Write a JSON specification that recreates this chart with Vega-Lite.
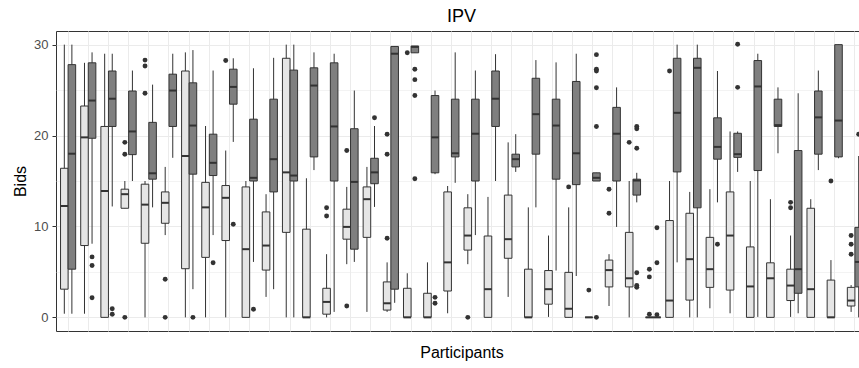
{
  "$schema": "https://vega.github.io/schema/vega-lite/v6.json",
  "width": 811,
  "height": 300,
  "autosize": {"type": "none"},
  "padding": {"left": 56, "top": 31, "right": 0, "bottom": 37},
  "background": "white",
  "title": {"text": "IPV", "fontSize": 18, "font": "Liberation Sans", "fontWeight": "normal", "color": "black", "anchor": "middle", "offset": 5},
  "config": {"view": {"stroke": "#333333", "strokeWidth": 1}, "font": "Liberation Sans"},
  "datasets": {
    "boxes": [
      {"p": 1, "g": "A", "lo": 0.4, "q1": 3.1, "med": 12.25, "q3": 16.4, "hi": 30},
      {"p": 1, "g": "B", "lo": 0.4, "q1": 5.3, "med": 18.0, "q3": 27.8, "hi": 30},
      {"p": 2, "g": "A", "lo": 0.4, "q1": 7.9, "med": 19.8, "q3": 23.25, "hi": 28.0},
      {"p": 2, "g": "B", "lo": 8.1, "q1": 19.7, "med": 23.85, "q3": 28.0, "hi": 29.15},
      {"p": 3, "g": "A", "lo": 0, "q1": 0, "med": 13.9, "q3": 21.0, "hi": 29.0},
      {"p": 3, "g": "B", "lo": 12.2, "q1": 21.0, "med": 24.05, "q3": 27.1, "hi": 29.0},
      {"p": 4, "g": "A", "lo": 12.0, "q1": 12.0, "med": 13.55, "q3": 14.1, "hi": 15.0},
      {"p": 4, "g": "B", "lo": 15.0, "q1": 17.9, "med": 20.45, "q3": 24.9, "hi": 27.15},
      {"p": 5, "g": "A", "lo": 0, "q1": 8.15, "med": 12.4, "q3": 14.65, "hi": 15.0},
      {"p": 5, "g": "B", "lo": 12.1, "q1": 15.2, "med": 15.85, "q3": 21.45, "hi": 25.6},
      {"p": 6, "g": "A", "lo": 9.05, "q1": 10.35, "med": 12.6, "q3": 13.8, "hi": 16.55},
      {"p": 6, "g": "B", "lo": 17.55, "q1": 21.0, "med": 24.95, "q3": 26.75, "hi": 29.0},
      {"p": 7, "g": "A", "lo": 0, "q1": 5.35, "med": 17.75, "q3": 27.1, "hi": 29.15},
      {"p": 7, "g": "B", "lo": 3.1, "q1": 15.75, "med": 21.1, "q3": 25.8, "hi": 29.4},
      {"p": 8, "g": "A", "lo": 0, "q1": 6.6, "med": 12.1, "q3": 14.85, "hi": 21.05},
      {"p": 8, "g": "B", "lo": 9.05, "q1": 15.6, "med": 17.0, "q3": 20.15, "hi": 27.15},
      {"p": 9, "g": "A", "lo": 0, "q1": 8.45, "med": 13.15, "q3": 14.5, "hi": 18.35},
      {"p": 9, "g": "B", "lo": 19.3, "q1": 23.45, "med": 25.35, "q3": 27.3, "hi": 28.5},
      {"p": 10, "g": "A", "lo": 0, "q1": 0, "med": 7.5, "q3": 14.35, "hi": 15.0},
      {"p": 10, "g": "B", "lo": 6.1, "q1": 15.0, "med": 15.35, "q3": 21.8, "hi": 27.4},
      {"p": 11, "g": "A", "lo": 2.25, "q1": 5.2, "med": 7.9, "q3": 11.6, "hi": 13.55},
      {"p": 11, "g": "B", "lo": 3.1, "q1": 13.8, "med": 17.4, "q3": 24.0, "hi": 28.55},
      {"p": 12, "g": "A", "lo": 0, "q1": 9.35, "med": 15.95, "q3": 28.5, "hi": 30},
      {"p": 12, "g": "B", "lo": 0, "q1": 15.0, "med": 15.6, "q3": 27.2, "hi": 30},
      {"p": 13, "g": "A", "lo": 0, "q1": 0, "med": 0, "q3": 9.7, "hi": 15.3},
      {"p": 13, "g": "B", "lo": 16.2, "q1": 17.65, "med": 25.5, "q3": 27.45, "hi": 29.15},
      {"p": 14, "g": "A", "lo": 0, "q1": 0.35, "med": 1.7, "q3": 3.2, "hi": 6.95},
      {"p": 14, "g": "B", "lo": 0.6, "q1": 15.0, "med": 21.0, "q3": 28.0, "hi": 29.0},
      {"p": 15, "g": "A", "lo": 5.85, "q1": 8.6, "med": 9.95, "q3": 11.9, "hi": 14.35},
      {"p": 15, "g": "B", "lo": 6.1, "q1": 7.5, "med": 14.9, "q3": 20.75, "hi": 24.95},
      {"p": 16, "g": "A", "lo": 0.6, "q1": 8.8, "med": 13.0, "q3": 14.35, "hi": 16.55},
      {"p": 16, "g": "B", "lo": 12.15, "q1": 14.7, "med": 15.95, "q3": 17.5, "hi": 21.05},
      {"p": 17, "g": "A", "lo": 0.6, "q1": 0.8, "med": 1.55, "q3": 3.9, "hi": 6.05},
      {"p": 17, "g": "B", "lo": 1.6, "q1": 3.1, "med": 29.0, "q3": 29.8, "hi": 29.85},
      {"p": 18, "g": "A", "lo": 0, "q1": 0, "med": 0, "q3": 3.2, "hi": 4.85},
      {"p": 18, "g": "B", "lo": 29.1, "q1": 29.1, "med": 29.75, "q3": 29.85, "hi": 29.85},
      {"p": 19, "g": "A", "lo": 0, "q1": 0, "med": 0, "q3": 2.65, "hi": 6.05},
      {"p": 19, "g": "B", "lo": 15.75, "q1": 15.9, "med": 19.8, "q3": 24.4, "hi": 24.95},
      {"p": 20, "g": "A", "lo": 0.45, "q1": 2.9, "med": 6.05, "q3": 13.8, "hi": 14.45},
      {"p": 20, "g": "B", "lo": 14.8, "q1": 17.65, "med": 18.05, "q3": 24.0, "hi": 29.15},
      {"p": 21, "g": "A", "lo": 5.85, "q1": 7.4, "med": 9.0, "q3": 12.05, "hi": 13.55},
      {"p": 21, "g": "B", "lo": 9.05, "q1": 15.0, "med": 20.2, "q3": 24.0, "hi": 27.15},
      {"p": 22, "g": "A", "lo": 0, "q1": 0, "med": 3.1, "q3": 8.95, "hi": 13.25},
      {"p": 22, "g": "B", "lo": 15.0, "q1": 21.0, "med": 24.05, "q3": 27.1, "hi": 28.95},
      {"p": 23, "g": "A", "lo": 2.25, "q1": 6.5, "med": 8.6, "q3": 13.45, "hi": 19.25},
      {"p": 23, "g": "B", "lo": 16.0, "q1": 16.55, "med": 17.4, "q3": 17.95, "hi": 20.15},
      {"p": 24, "g": "A", "lo": 0, "q1": 0, "med": 0, "q3": 5.3, "hi": 12.1},
      {"p": 24, "g": "B", "lo": 12.1, "q1": 17.95, "med": 22.35, "q3": 26.3, "hi": 28.3},
      {"p": 25, "g": "A", "lo": 0.05, "q1": 1.45, "med": 3.1, "q3": 5.15, "hi": 9.0},
      {"p": 25, "g": "B", "lo": 5.15, "q1": 15.2, "med": 21.1, "q3": 24.0, "hi": 28.05},
      {"p": 26, "g": "A", "lo": 0, "q1": 0, "med": 0.95, "q3": 4.95, "hi": 12.1},
      {"p": 26, "g": "B", "lo": 4.55, "q1": 14.6, "med": 18.05, "q3": 25.95, "hi": 29.0},
      {"p": 27, "g": "A", "lo": 0, "q1": 0, "med": 0, "q3": 0, "hi": 0},
      {"p": 27, "g": "B", "lo": 15.0, "q1": 15.0, "med": 15.35, "q3": 15.9, "hi": 15.9},
      {"p": 28, "g": "A", "lo": 1.25, "q1": 3.35, "med": 5.2, "q3": 6.3, "hi": 6.95},
      {"p": 28, "g": "B", "lo": 9.95, "q1": 15.0, "med": 20.2, "q3": 23.1, "hi": 25.3},
      {"p": 29, "g": "A", "lo": 0, "q1": 3.35, "med": 4.3, "q3": 9.35, "hi": 15.0},
      {"p": 29, "g": "B", "lo": 12.65, "q1": 13.45, "med": 15.05, "q3": 15.2, "hi": 15.9},
      {"p": 30, "g": "A", "lo": 0, "q1": 0, "med": 0, "q3": 0, "hi": 0},
      {"p": 30, "g": "B", "lo": 0, "q1": 0, "med": 0, "q3": 0, "hi": 0},
      {"p": 31, "g": "A", "lo": 0, "q1": 0, "med": 1.85, "q3": 10.65, "hi": 15.0},
      {"p": 31, "g": "B", "lo": 6.05, "q1": 16.0, "med": 22.5, "q3": 28.5, "hi": 30},
      {"p": 32, "g": "A", "lo": 0, "q1": 1.9, "med": 6.4, "q3": 11.45, "hi": 13.8},
      {"p": 32, "g": "B", "lo": 0, "q1": 12.05, "med": 27.45, "q3": 28.5, "hi": 30},
      {"p": 33, "g": "A", "lo": 1.0, "q1": 3.3, "med": 5.3, "q3": 8.8, "hi": 14.1},
      {"p": 33, "g": "B", "lo": 12.65, "q1": 17.4, "med": 18.75, "q3": 21.95, "hi": 27.1},
      {"p": 34, "g": "A", "lo": 0.45, "q1": 3.0, "med": 9.0, "q3": 13.8, "hi": 20.45},
      {"p": 34, "g": "B", "lo": 16.0, "q1": 17.6, "med": 17.95, "q3": 20.25, "hi": 20.45},
      {"p": 35, "g": "A", "lo": 0, "q1": 0, "med": 3.4, "q3": 7.75, "hi": 15.0},
      {"p": 35, "g": "B", "lo": 0.05, "q1": 16.15, "med": 25.4, "q3": 28.25, "hi": 29.0},
      {"p": 36, "g": "A", "lo": 0, "q1": 0, "med": 4.3, "q3": 6.0, "hi": 13.0},
      {"p": 36, "g": "B", "lo": 18.05, "q1": 21.0, "med": 21.15, "q3": 24.0, "hi": 25.3},
      {"p": 37, "g": "A", "lo": 0.05, "q1": 1.85, "med": 3.5, "q3": 5.3, "hi": 9.0},
      {"p": 37, "g": "B", "lo": 0.45, "q1": 2.65, "med": 5.3, "q3": 18.35, "hi": 24.65},
      {"p": 38, "g": "A", "lo": 0, "q1": 0, "med": 3.1, "q3": 12.0, "hi": 13.0},
      {"p": 38, "g": "B", "lo": 16.2, "q1": 17.95, "med": 22.0, "q3": 24.9, "hi": 27.15},
      {"p": 39, "g": "A", "lo": 0, "q1": 0, "med": 0, "q3": 4.1, "hi": 6.3},
      {"p": 39, "g": "B", "lo": 17.5, "q1": 17.65, "med": 21.65, "q3": 30.0, "hi": 30.0},
      {"p": 40, "g": "A", "lo": 0.6, "q1": 1.25, "med": 1.85, "q3": 3.3, "hi": 3.55},
      {"p": 40, "g": "B", "lo": 0, "q1": 3.35, "med": 6.1, "q3": 9.9, "hi": 17.75}
    ],
    "outliers": [
      {"p": 2, "g": "B", "v": 6.65}, {"p": 2, "g": "B", "v": 5.7}, {"p": 2, "g": "B", "v": 2.15},
      {"p": 3, "g": "B", "v": 0.95}, {"p": 3, "g": "B", "v": 0.35},
      {"p": 4, "g": "A", "v": 19.25}, {"p": 4, "g": "A", "v": 17.95}, {"p": 4, "g": "A", "v": 0},
      {"p": 5, "g": "A", "v": 28.3}, {"p": 5, "g": "A", "v": 27.65}, {"p": 5, "g": "A", "v": 24.65},
      {"p": 6, "g": "A", "v": 4.2}, {"p": 6, "g": "A", "v": 0},
      {"p": 7, "g": "B", "v": 0},
      {"p": 8, "g": "B", "v": 6.0},
      {"p": 9, "g": "A", "v": 28.25}, {"p": 9, "g": "B", "v": 10.25},
      {"p": 10, "g": "B", "v": 0.9},
      {"p": 14, "g": "A", "v": 12.05}, {"p": 14, "g": "A", "v": 11.15},
      {"p": 15, "g": "A", "v": 18.35}, {"p": 15, "g": "A", "v": 1.25},
      {"p": 16, "g": "B", "v": 21.95},
      {"p": 17, "g": "A", "v": 20.15}, {"p": 17, "g": "A", "v": 17.95}, {"p": 17, "g": "A", "v": 8.7},
      {"p": 18, "g": "A", "v": 29.1},
      {"p": 18, "g": "B", "v": 27.3}, {"p": 18, "g": "B", "v": 26.15}, {"p": 18, "g": "B", "v": 24.4}, {"p": 18, "g": "B", "v": 15.25},
      {"p": 19, "g": "B", "v": 2.2}, {"p": 19, "g": "B", "v": 1.55},
      {"p": 21, "g": "A", "v": 0},
      {"p": 26, "g": "A", "v": 14.35},
      {"p": 27, "g": "A", "v": 3.0},
      {"p": 27, "g": "B", "v": 28.9}, {"p": 27, "g": "B", "v": 27.3}, {"p": 27, "g": "B", "v": 27.1}, {"p": 27, "g": "B", "v": 25.25}, {"p": 27, "g": "B", "v": 21.0}, {"p": 27, "g": "B", "v": 0},
      {"p": 28, "g": "A", "v": 14.1}, {"p": 28, "g": "A", "v": 11.45},
      {"p": 29, "g": "A", "v": 19.25},
      {"p": 29, "g": "B", "v": 21.0}, {"p": 29, "g": "B", "v": 20.75}, {"p": 29, "g": "B", "v": 18.6}, {"p": 29, "g": "B", "v": 4.9}, {"p": 29, "g": "B", "v": 3.5}, {"p": 29, "g": "B", "v": 3.3},
      {"p": 30, "g": "A", "v": 5.3}, {"p": 30, "g": "A", "v": 4.45}, {"p": 30, "g": "A", "v": 0.35},
      {"p": 30, "g": "B", "v": 9.85}, {"p": 30, "g": "B", "v": 6.0}, {"p": 30, "g": "B", "v": 0.3},
      {"p": 31, "g": "A", "v": 27.1},
      {"p": 33, "g": "B", "v": 8.05},
      {"p": 34, "g": "B", "v": 30.05}, {"p": 34, "g": "B", "v": 25.3},
      {"p": 37, "g": "A", "v": 12.65}, {"p": 37, "g": "A", "v": 12.05},
      {"p": 39, "g": "A", "v": 15.0},
      {"p": 40, "g": "A", "v": 9.0}, {"p": 40, "g": "A", "v": 8.05}, {"p": 40, "g": "A", "v": 6.95},
      {"p": 40, "g": "B", "v": 20.15}
    ]
  },
  "encoding": {
    "x": {
      "field": "p", "type": "ordinal",
      "scale": {"paddingInner": 0, "paddingOuter": 0.1},
      "axis": {"labels": false, "ticks": false, "domain": false, "title": "Participants", "titleFontSize": 16, "titleFontWeight": "normal", "titleColor": "black", "titleFont": "Liberation Sans", "titlePadding": 13, "bandPosition": 0.5, "grid": true, "gridColor": "#ebebeb", "gridWidth": 1}
    },
    "xOffset": {"field": "g", "type": "nominal", "scale": {"domain": ["A", "B"], "paddingInner": 0, "paddingOuter": 0.333}}
  },
  "layer": [
    {
      "data": {"name": "boxes"},
      "mark": {"type": "rule", "color": "#333333", "strokeWidth": 1},
      "encoding": {
        "y": {
          "field": "lo", "type": "quantitative", "title": "Bids",
          "scale": {"domain": [-1.5, 31.5], "nice": false, "zero": false},
          "axis": {
            "values": [0, 5, 10, 15, 20, 25, 30],
            "labelExpr": "datum.value % 10 == 0 ? datum.label : ''",
            "domain": false, "tickSize": 4, "tickColor": "#333333",
            "tickOpacity": {"condition": {"test": "datum.value % 10 != 0", "value": 0}, "value": 1},
            "labelFontSize": 13, "labelColor": "#4d4d4d", "labelPadding": 4, "labelFont": "Liberation Sans",
            "titleFontSize": 16, "titleFontWeight": "normal", "titleColor": "black", "titleFont": "Liberation Sans", "titlePadding": 5,
            "grid": true, "gridColor": "#ebebeb",
            "gridWidth": {"condition": {"test": "datum.value % 10 != 0", "value": 0.6}, "value": 1.1}
          }
        },
        "y2": {"field": "hi"}
      }
    },
    {
      "data": {"name": "boxes"},
      "mark": {"type": "bar", "stroke": "#333333", "strokeWidth": 1},
      "encoding": {
        "y": {"field": "q1", "type": "quantitative", "title": "Bids"},
        "y2": {"field": "q3"},
        "fill": {"field": "g", "type": "nominal", "scale": {"domain": ["A", "B"], "range": ["#e5e5e5", "#7f7f7f"]}, "legend": null}
      }
    },
    {
      "data": {"name": "boxes"},
      "mark": {"type": "tick", "color": "#333333", "thickness": 2, "size": 7.5, "opacity": 1},
      "encoding": {
        "y": {"field": "med", "type": "quantitative", "title": "Bids"}
      }
    },
    {
      "data": {"name": "outliers"},
      "mark": {"type": "circle", "color": "#333333", "size": 24, "opacity": 1},
      "encoding": {
        "y": {"field": "v", "type": "quantitative", "title": "Bids"}
      }
    }
  ]
}
